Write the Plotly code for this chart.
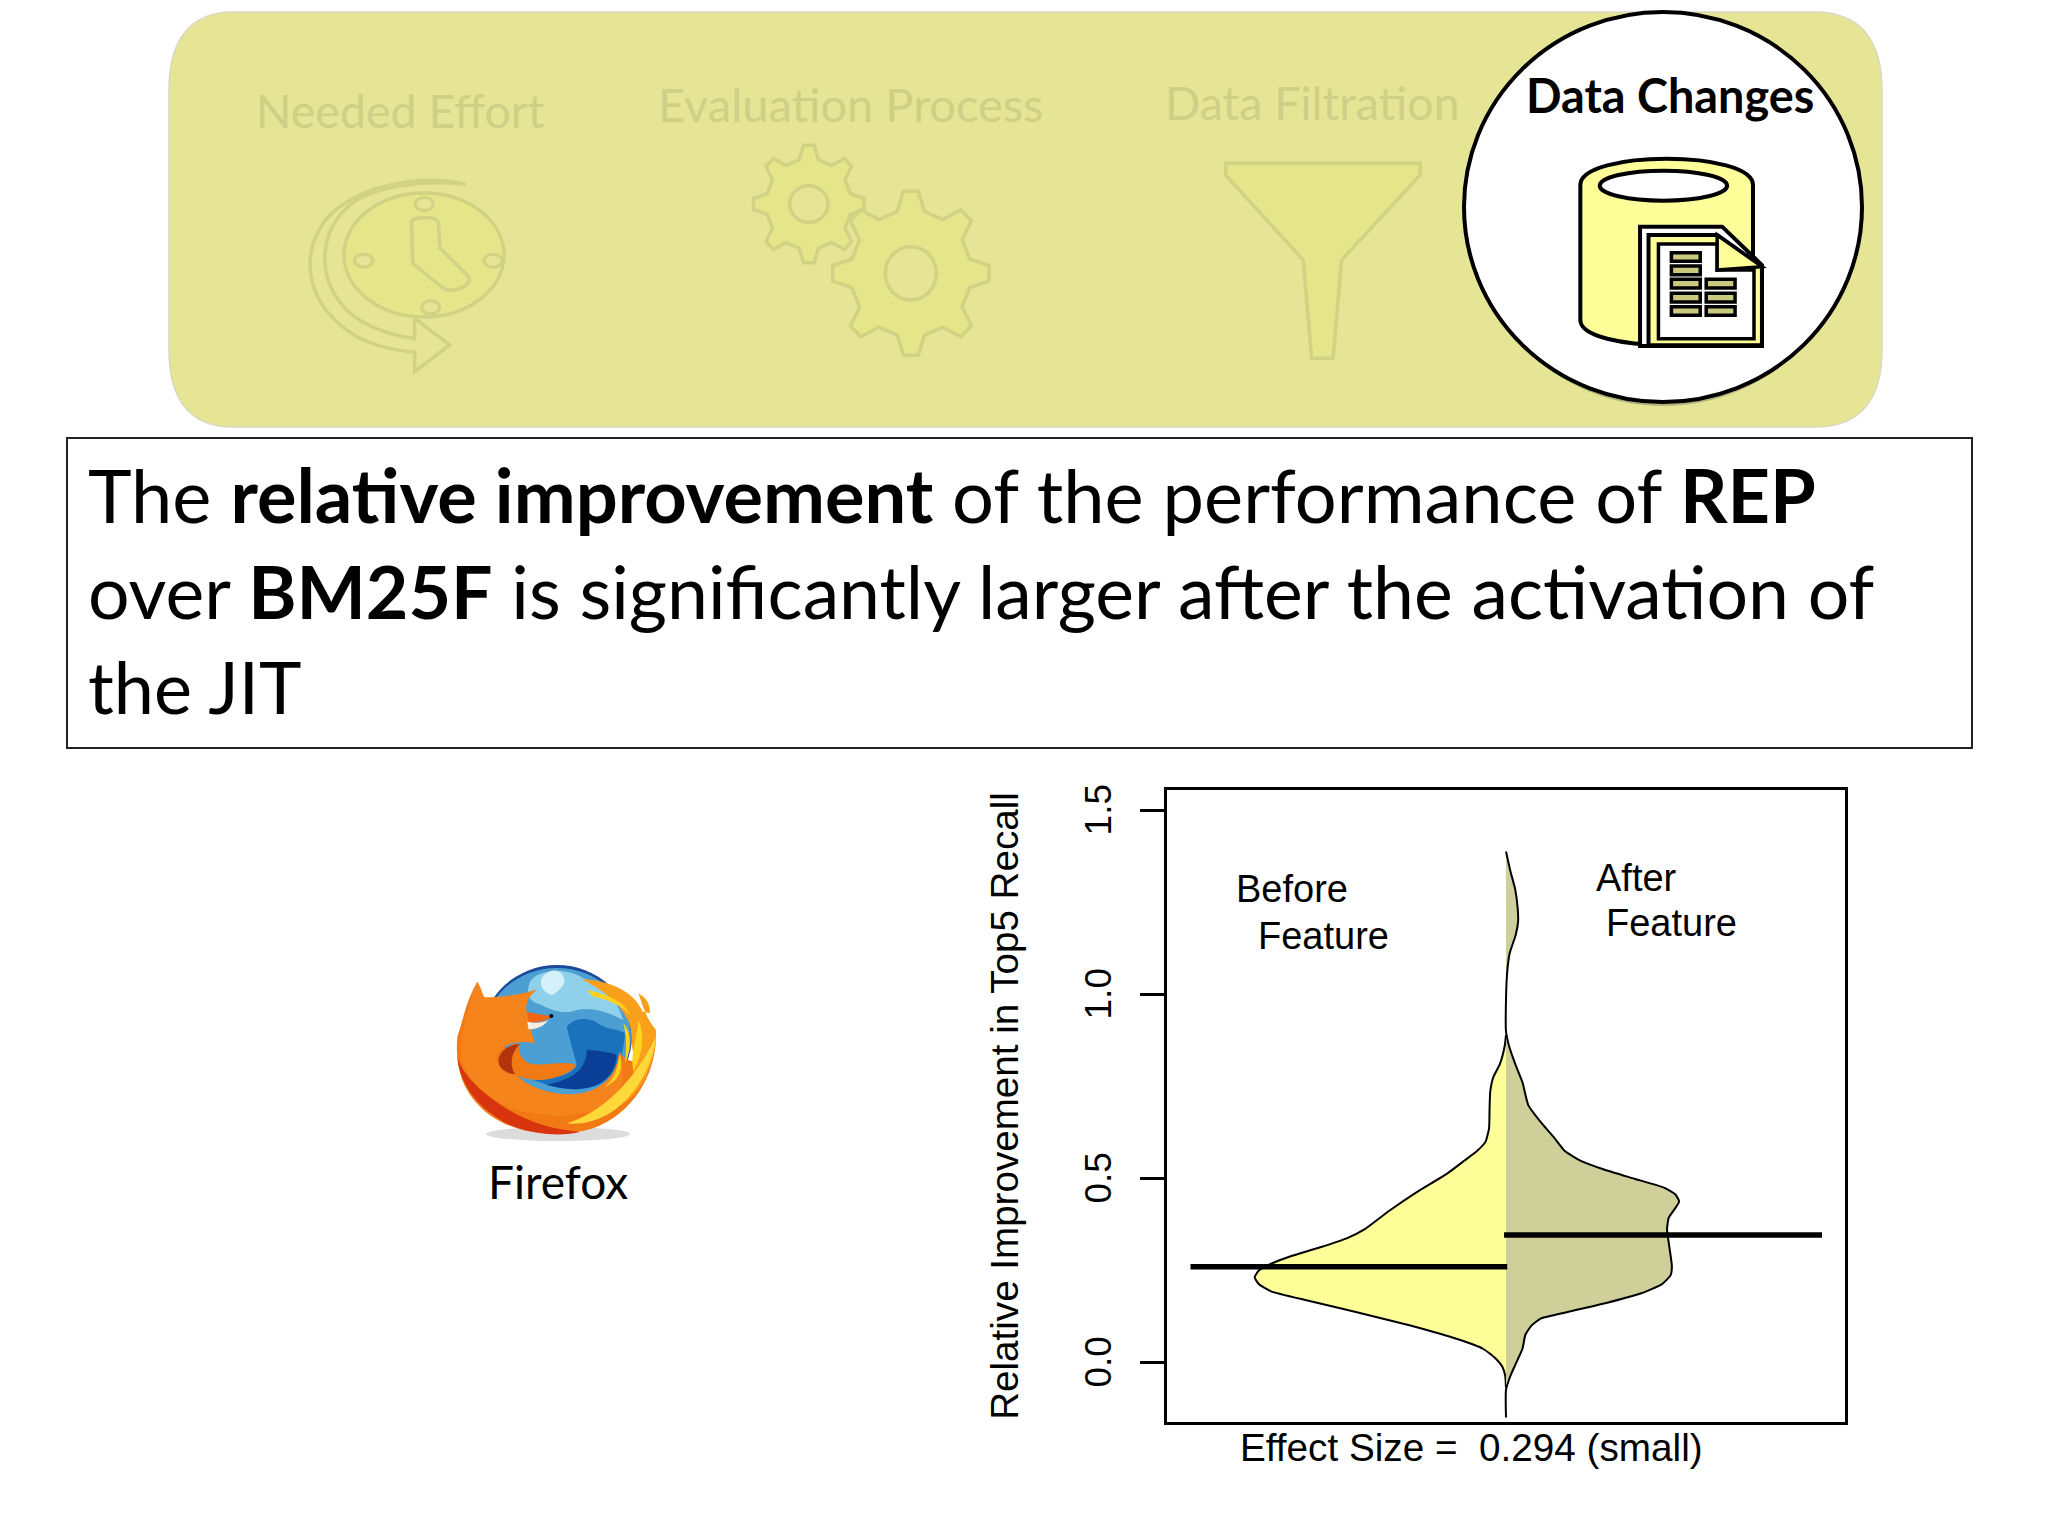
# -*- coding: utf-8 -*-
import re
import math
import plotly.graph_objects as go

W, H = 2048, 1536

# violin outlines: value on the y axis, density on the x axis
before_y = [0.89, 0.861, 0.811, 0.774, 0.736, 0.686, 0.636, 0.599, 0.574, 0.549, 0.512, 0.462, 0.412, 0.362, 0.337, 0.312,
            0.287, 0.268, 0.25, 0.231, 0.212, 0.193, 0.168, 0.137, 0.1, 0.062, 0.037, 0.012, -0.012, -0.037, -0.069]
before_d = [0.0, 0.005, 0.025, 0.053, 0.065, 0.068, 0.07, 0.085, 0.12, 0.17, 0.245, 0.37, 0.482, 0.583, 0.658, 0.77,
            0.895, 0.97, 1.02, 1.038, 1.02, 0.97, 0.82, 0.62, 0.395, 0.195, 0.095, 0.045, 0.015, 0.003, 0.0]
after_y = [1.388, 1.335, 1.285, 1.236, 1.198, 1.161, 1.111, 1.061, 0.986, 0.899, 0.861, 0.811, 0.761, 0.699, 0.649,
           0.611, 0.574, 0.549, 0.524, 0.499, 0.474, 0.456, 0.437, 0.418, 0.393, 0.362, 0.312, 0.262, 0.237, 0.212,
           0.187, 0.162, 0.137, 0.119, 0.1, 0.075, 0.037, 0.0, -0.037, -0.075, -0.15]
after_d = [0.0, 0.018, 0.038, 0.048, 0.05, 0.04, 0.015, 0.005, 0.0, 0.0, 0.012, 0.038, 0.068, 0.092, 0.148,
           0.198, 0.243, 0.305, 0.405, 0.53, 0.655, 0.7, 0.715, 0.698, 0.672, 0.665, 0.675, 0.685, 0.68, 0.643,
           0.555, 0.418, 0.255, 0.143, 0.105, 0.08, 0.068, 0.043, 0.018, 0.0, 0.0]
before_mean_x = [-1.303, 0.005]
before_mean_y = [0.26, 0.26]
after_mean_x = [-0.008, 1.305]
after_mean_y = [0.346, 0.346]
y_ticks = [0.0, 0.5, 1.0, 1.5]
y_tick_labels = ["0.0", "0.5", "1.0", "1.5"]

step_labels = ["Needed Effort", "Evaluation Process", "Data Filtration"]
title_lines = [
    "The <b>relative improvement</b> of the performance of <b>REP</b>",
    "over <b>BM25F</b> is significantly larger after the activation of",
    "the JIT",
]

BAND = "#E5E595"
ICON_FILL = "#E5E68A"
ICON_LINE = "#D2D284"
TEXT_FAINT = "#CFCF86"


def to_paper(px, py):
    return px / W, 1 - py / H


def tr(d, ox, oy, sx, sy):
    # path written in crop coordinates -> paper coordinates
    out = []
    is_x = True
    for tok in re.findall(r"[A-Za-z]|-?\d+\.?\d*", d):
        if tok.isalpha():
            out.append(tok)
            is_x = True
        elif is_x:
            out.append(f"{(ox + float(tok) / sx) / W:.5f},")
            is_x = False
        else:
            out.append(f"{1 - (oy + float(tok) / sy) / H:.5f}")
            is_x = True
    return " ".join(out)


def add_path(fig, d, fill, line=None, width=0, crop=(0, 0, 1, 1), opacity=1):
    fig.add_shape(type="path", path=tr(d, *crop), xref="paper", yref="paper",
                  fillcolor=fill, opacity=opacity,
                  line=dict(color=line or fill, width=width))


def add_ell(fig, cx, cy, rx, ry, fill, line=None, width=0, opacity=1):
    x0, y0 = to_paper(cx - rx, cy - ry)
    x1, y1 = to_paper(cx + rx, cy + ry)
    fig.add_shape(type="circle", x0=x0, x1=x1, y0=y0, y1=y1, xref="paper", yref="paper",
                  fillcolor=fill, opacity=opacity, line=dict(color=line or fill, width=width))


def add_text(fig, text, px, baseline, size, color="black", family="Lato", anchor="left", descent=0.213):
    x, y = to_paper(px, baseline + descent * size + 1)
    fig.add_annotation(text=text, x=x, y=y, xref="paper", yref="paper", showarrow=False,
                       xanchor=anchor, yanchor="bottom", borderpad=0, align="left",
                       font=dict(family=family, size=size, color=color))


def gear_path(cx, cy, rx, ry, n=8):
    p = 2 * math.pi / n
    pts = []
    for k in range(n):
        a = -math.pi / 2 + k * p
        for off, r in [(-0.29, 0.77), (-0.12, 1.0), (0.12, 1.0), (0.29, 0.77)]:
            pts.append((cx + rx * r * math.cos(a + off * p), cy + ry * r * math.sin(a + off * p)))
    return "M" + " L".join(f"{x:.1f} {y:.1f}" for x, y in pts) + " Z"


fig = go.Figure()

# bean halves
fig.add_trace(go.Scatter(x=[-d for d in before_d], y=before_y, mode="lines", fill="tozerox",
                         fillcolor="#FFFF99", line=dict(color="black", width=2, shape="spline", smoothing=0.5),
                         name="Before Feature"))
fig.add_trace(go.Scatter(x=after_d, y=after_y, mode="lines", fill="tozerox",
                         fillcolor="#CFCF99", line=dict(color="black", width=2, shape="spline", smoothing=0.5),
                         name="After Feature"))
fig.add_trace(go.Scatter(x=before_mean_x, y=before_mean_y, mode="lines",
                         line=dict(color="black", width=5.5), name="Before mean"))
fig.add_trace(go.Scatter(x=after_mean_x, y=after_mean_y, mode="lines",
                         line=dict(color="black", width=5.5), name="After mean"))

# ---- top band with the four steps
BAND_PATH = "M233 12 L1815 12 C1860 12 1882 40 1882 90 L1882 350 C1882 400 1860 427 1815 427 " \
            "L233 427 C190 427 169 400 169 350 L169 90 C169 40 190 12 233 12 Z"
add_path(fig, BAND_PATH, BAND, line="#D8D8C0", width=1.5)

z2 = (150, 0, 1.568, 3)
z3 = (1150, 0, 2.01, 3)

# clock
add_ell(fig, 424, 255, 80, 62, ICON_FILL, line=ICON_LINE, width=3.5)
for zx, zy in [(430, 612), (335, 782), (538, 782), (440, 922)]:
    add_ell(fig, 150 + zx / 1.568, zy / 3, 9, 6.5, BAND, line=ICON_LINE, width=3)
add_path(fig, "M410 665 C412 650 450 645 452 668 L455 745 L500 830 C505 860 475 880 460 865 L412 790 Z",
         ICON_FILL, line=ICON_LINE, width=3.5, crop=z2)
add_path(fig, "M495 553 C420 520 320 560 275 660 C230 780 250 920 320 1005 C350 1040 385 1050 415 1057 L415 1115 "
              "L470 1035 L415 955 L415 1015 C370 1005 320 970 295 900 C265 820 265 700 310 620 C350 555 430 540 495 553 Z",
         BAND, line=ICON_LINE, width=3.5, crop=z2)

# gears
for cx, cy, rx, ry, hx, hy in [(1033, 612, 87, 177, 30, 55), (1193, 820, 123, 247, 40, 80)]:
    add_path(fig, gear_path(cx, cy, rx, ry), ICON_FILL, line=ICON_LINE, width=3.5, crop=z2)
    add_ell(fig, 150 + cx / 1.568, cy / 3, hx / 1.568, hy / 3, BAND, line=ICON_LINE, width=3.5)

# funnel
add_path(fig, "M152 490 L543 490 L543 525 L385 780 L368 1075 L325 1075 L308 780 L152 525 Z",
         ICON_FILL, line=ICON_LINE, width=3.5, crop=z3)

add_text(fig, step_labels[0], 255, 128, 46.5, color=TEXT_FAINT)
add_text(fig, step_labels[1], 657, 122, 47, color=TEXT_FAINT)
add_text(fig, step_labels[2], 1164, 120, 46.5, color=TEXT_FAINT)

# highlighted step
add_ell(fig, 1663, 211, 195, 195, "#555555", opacity=0.35)
add_ell(fig, 1663, 207, 199, 195, "white", line="black", width=4)
add_text(fig, "<b>Data Changes</b>", 1525, 113, 46.8)

add_path(fig, "M865 555 C865 450 1212 450 1212 555 L1212 960 C1212 1060 865 1060 865 960 Z",
         "#FFFF99", line="black", width=4, crop=z3)
add_ell(fig, 1150 + 1032 / 2.01, 557 / 3, 128 / 2.01, 45 / 3, "white", line="black", width=4)
add_path(fig, "M985 680 L1150 680 L1230 795 L1230 1038 L985 1038 Z", "white", line="black", width=4, crop=z3)
add_path(fig, "M1002 705 L1140 705 L1230 800 L1230 1036 L1002 1036 Z", "#FFFF99", line="black", width=4, crop=z3)
add_path(fig, "M1022 732 L1140 732 L1140 810 L1214 810 L1214 1016 L1022 1016 Z", "white", line="black", width=3.5, crop=z3)
add_path(fig, "M1140 705 L1140 810 L1230 800 Z", "#FFFF99", line="black", width=3.5, crop=z3)
for zx, zy in [(1048, 758), (1048, 798), (1048, 838), (1048, 880), (1048, 920), (1118, 838), (1118, 880), (1118, 920)]:
    add_path(fig, f"M{zx} {zy} L{zx + 58} {zy} L{zx + 58} {zy + 26} L{zx} {zy + 26} Z", "#C9C97F", line="black", width=3.5, crop=z3)

# ---- statement box
x0, y0 = to_paper(67, 438)
x1, y1 = to_paper(1972, 748)
fig.add_shape(type="rect", x0=x0, x1=x1, y0=y0, y1=y1, xref="paper", yref="paper",
              fillcolor="white", line=dict(color="#222222", width=2))
for line_text, base, size in zip(title_lines, [523, 619, 714], [74, 73.4, 72]):
    add_text(fig, line_text, 87, base, size)

# ---- firefox logo
z4 = (420, 940, 3, 3)
add_ell(fig, 558, 1134, 72, 7, "#C4C4C4", opacity=0.6)
add_ell(fig, 557, 1036, 75, 71, "#1B4A9C")
add_ell(fig, 557, 1037, 74, 69, "#4B9FD3")
add_path(fig, "M330 125 C350 90 440 80 490 115 C560 140 590 180 610 240 C570 220 520 200 470 210 C420 230 380 200 350 190 "
              "C320 180 320 150 330 125 Z", "#8FD0EA", crop=z4)
add_path(fig, "M365 115 C385 85 420 85 430 110 C445 130 410 160 395 165 C375 160 355 140 365 115 Z", "#D5F0F8", crop=z4)
add_path(fig, "M440 260 C470 225 520 235 540 255 C570 270 590 265 615 280 C610 350 590 400 545 430 "
              "C490 460 420 450 340 420 C400 420 470 400 470 370 C460 340 450 300 440 260 Z", "#1A72BD", crop=z4)
add_path(fig, "M500 330 C540 330 580 340 590 345 C585 390 570 410 540 430 C490 455 440 450 380 435 C440 420 500 400 500 330 Z",
         "#0B3F97", crop=z4)
# fox body, orange with a red rim at the lower left
add_path(fig, "M172 125 C135 190 130 240 112 290 C105 370 120 440 180 500 C260 580 400 600 520 565 "
              "C640 520 712 400 708 275 C700 340 640 400 598 335 C590 420 530 455 470 462 "
              "C400 470 320 440 290 405 L172 125 Z", "#F27A14", crop=z4)
add_path(fig, "M112 350 C120 440 180 510 270 555 C340 585 430 590 480 575 C400 570 320 545 250 500 C180 450 130 410 112 350 Z",
         "#D8340E", crop=z4)
add_path(fig, "M172 125 C190 155 185 165 195 172 C250 170 300 165 352 148 C325 170 315 190 320 215 "
              "C330 250 335 285 345 310 C300 300 250 310 232 340 C220 375 250 400 290 405 "
              "C320 440 400 470 470 462 C530 455 590 420 598 335 C610 380 620 420 590 470 "
              "C530 530 400 540 290 510 C200 480 140 420 125 350 C120 290 140 210 172 125 Z", "#F5841C", crop=z4)
add_path(fig, "M240 345 C225 375 250 400 290 405 C330 430 420 425 470 378 C450 358 380 378 335 372 "
              "C300 365 290 320 300 310 C270 312 250 325 240 345 Z", "#F27A14", crop=z4)
add_path(fig, "M240 345 C225 375 250 400 285 403 C270 380 270 340 300 312 C270 315 250 325 240 345 Z", "#B3330C", crop=z4)
add_path(fig, "M322 245 C345 250 365 250 385 240 C370 262 345 268 325 268 Z", "#FBEBDC", crop=z4)
add_path(fig, "M322 215 C345 222 370 222 395 230 C375 245 345 250 325 245 Z", "#F0650F", crop=z4)
add_ell(fig, 420 + 394 / 3, 940 + 228 / 3, 2, 2, "black")
# flames on the right
add_path(fig, "M485 118 C560 120 640 150 668 215 L690 220 C690 190 680 175 655 160 C670 200 675 230 708 270 "
              "C712 350 670 470 590 500 C640 430 650 380 640 340 C630 300 640 260 620 235 C600 190 550 150 485 118 Z",
         "#F9A01B", crop=z4)
add_path(fig, "M500 150 C560 160 620 190 630 225 C610 200 560 175 520 170 Z", "#FFD21F", crop=z4)
add_path(fig, "M655 240 C675 280 670 340 640 395 C630 340 650 300 655 240 Z", "#FFD21F", crop=z4)
add_path(fig, "M610 250 C640 280 630 340 615 370 C620 320 620 290 610 250 Z", "#FFD21F", crop=z4)
add_path(fig, "M708 290 C700 380 640 480 560 525 C520 545 480 555 440 550 C540 520 640 430 708 290 Z", "#FFD83A", crop=z4)
add_path(fig, "M600 345 C610 390 600 420 555 440 C590 410 590 380 600 345 Z", "#FFD21F", crop=z4)
add_text(fig, "Firefox", 558, 1199, 46, anchor="center")

# ---- labels inside and under the bean plot
HELV = "Liberation Sans"
add_text(fig, "Before", 1235, 902, 38, family=HELV, descent=0.212)
add_text(fig, "Feature", 1257, 949, 38, family=HELV, descent=0.212)
add_text(fig, "After", 1595, 891, 38, family=HELV, descent=0.212)
add_text(fig, "Feature", 1605, 936, 38, family=HELV, descent=0.212)
add_text(fig, "Effect Size =  0.294 (small)", 1239, 1461, 38.7, family=HELV, descent=0.212)

fig.update_layout(
    width=W, height=H,
    margin=dict(l=0, r=0, t=0, b=0),
    paper_bgcolor="white", plot_bgcolor="rgba(0,0,0,0)",
    showlegend=False,
    font=dict(family=HELV, color="black"),
    xaxis=dict(domain=[1167 / W, 1845 / W], range=[-1.4, 1.4], showgrid=False, zeroline=False, automargin=False,
               showticklabels=False, ticks="", showline=True, mirror=True, linecolor="black", linewidth=3),
    yaxis=dict(domain=[1 - 1422 / H, 1 - 790 / H], range=[-0.162, 1.555], showgrid=False, zeroline=False, automargin=False,
               tickvals=y_ticks, ticktext=y_tick_labels, tickangle=-90, ticks="outside", ticklen=24, tickwidth=3,
               tickcolor="black", tickfont=dict(family=HELV, size=37), ticklabelstandoff=14, ticklabelshift=5,
               showline=True, mirror=True, linecolor="black", linewidth=3,
               title=dict(text="Relative Improvement in Top5 Recall", font=dict(family=HELV, size=38.6), standoff=48)),
)

fig.write_html("out.html", config=dict(displayModeBar=False), post_script="document.body.style.margin='0';")
